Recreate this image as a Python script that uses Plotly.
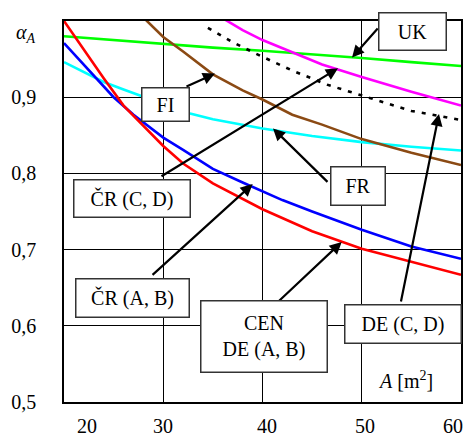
import plotly.graph_objects as go

# ---- data ----
green_x = [20, 25, 30, 35, 40, 45, 50, 55, 60]
green_y = [0.980, 0.975, 0.970, 0.965, 0.961, 0.9565, 0.9515, 0.946, 0.941]

red_x = [20, 22, 24, 26, 28, 30, 32, 35, 40, 45, 50, 55, 60]
red_y = [1.0, 0.962, 0.925, 0.889, 0.862, 0.836, 0.813, 0.787, 0.753, 0.724, 0.701, 0.684, 0.667]

blue_x = [20, 22, 24, 25, 27, 30, 32, 35, 38, 40, 42, 45, 50, 55, 60]
blue_y = [0.971, 0.943, 0.914, 0.900, 0.877, 0.847, 0.831, 0.806, 0.788, 0.776, 0.765, 0.750,
          0.726, 0.704, 0.688]

cyan_x = [20, 22, 24, 26, 28, 30, 32.7, 35, 40, 45, 50, 55, 60]
cyan_y = [0.946, 0.933, 0.920, 0.910, 0.901, 0.891, 0.8785, 0.871, 0.859, 0.849, 0.841, 0.835, 0.830]

brown_x = [28.2, 30, 32, 35, 38, 40, 43, 46, 50, 55, 60]
brown_y = [1.002, 0.979, 0.960, 0.930, 0.909, 0.897, 0.877, 0.864, 0.845, 0.827, 0.811]

magenta_x = [36.2, 38, 40, 43, 46, 50, 55, 60]
magenta_y = [1.002, 0.988, 0.975, 0.959, 0.943, 0.9265, 0.907, 0.889]

dotted_x = [34.5, 37, 40, 43, 46.5, 50, 55, 60]
dotted_y = [0.991, 0.972, 0.953, 0.935, 0.9165, 0.9025, 0.882, 0.870]

x_ticks = [20, 30, 40, 50, 60]
x_tick_text = ["20", "30", "40", "50", "60"]
y_ticks = [0.5, 0.6, 0.7, 0.8, 0.9]
y_tick_text = ["0,5", "0,6", "0,7", "0,8", "0,9"]

# label boxes: text, centre (x, y), box width, box height
box_text = ["FI", "ČR (C, D)", "ČR (A, B)", "CEN<br>DE (A, B)", "DE (C, D)", "FR", "UK"]
box_x = [30.20, 26.85, 26.90, 40.15, 54.16, 49.67, 55.11]
box_y = [0.890, 0.767, 0.636, 0.586, 0.602, 0.783, 0.986]
box_w = [49, 118, 115, 128, 118, 56, 69]
box_h = [35, 39, 40, 73, 40, 40, 39]

# arrows: tail (x, y) -> head (x, y)
arrow_tail_x = [32.19, 29.67, 28.77, 41.53, 53.92, 46.70, 51.74]
arrow_tail_y = [0.913, 0.795, 0.665, 0.631, 0.630, 0.787, 0.992]
arrow_head_x = [35.21, 47.61, 39.01, 47.98, 57.78, 41.06, 49.02]
arrow_head_y = [0.931, 0.938, 0.786, 0.710, 0.878, 0.859, 0.952]

FONT = "Liberation Serif, Times New Roman, serif"

fig = go.Figure()
series = [
    (green_x, green_y, "#00FF00", "solid", 2.6),
    (cyan_x, cyan_y, "#00FFFF", "solid", 2.6),
    (brown_x, brown_y, "#8B4A14", "solid", 2.6),
    (magenta_x, magenta_y, "#FF00FF", "solid", 2.6),
    (blue_x, blue_y, "#0000FF", "solid", 2.6),
    (red_x, red_y, "#FF0000", "solid", 2.6),
    (dotted_x, dotted_y, "#000000", "4px,7px", 2.6),
]
for xs, ys, col, dash, w in series:
    fig.add_trace(go.Scatter(x=xs, y=ys, mode="lines",
                             line=dict(color=col, width=w, dash=dash),
                             showlegend=False, hoverinfo="skip"))

annotations = []
# arrows
for tx, ty, hx, hy in zip(arrow_tail_x, arrow_tail_y, arrow_head_x, arrow_head_y):
    annotations.append(dict(x=hx, y=hy, ax=tx, ay=ty, xref="x", yref="y",
                            axref="x", ayref="y", text="", showarrow=True,
                            arrowhead=2, arrowsize=1.1, arrowwidth=2.2,
                            arrowcolor="black", standoff=0, startstandoff=0))
# boxes
for t, bx, by, bw, bh in zip(box_text, box_x, box_y, box_w, box_h):
    annotations.append(dict(x=bx, y=by, xref="x", yref="y", text=t,
                            showarrow=False, bgcolor="white",
                            bordercolor="#333333", borderwidth=1.5, borderpad=0,
                            width=bw - 3, height=bh - 3, align="center",
                            valign="middle",
                            font=dict(family=FONT, size=20, color="black")))
# x tick labels
x_shift = [23, 0, 4, 3, -8]
for v, t, s in zip(x_ticks, x_tick_text, x_shift):
    annotations.append(dict(x=v, y=0, xref="x", yref="paper", text=t,
                            showarrow=False, xanchor="center", yanchor="middle",
                            xshift=s, yshift=-24,
                            font=dict(family=FONT, size=20, color="black")))
# axis titles
annotations.append(dict(x=0, y=1, xref="paper", yref="paper",
                        text="<i>α<sub>A</sub></i>", showarrow=False,
                        xanchor="center", yanchor="middle", xshift=-38, yshift=-12,
                        font=dict(family=FONT, size=20, color="black")))
annotations.append(dict(x=0.86, y=0, xref="paper", yref="paper",
                        text="<i>A</i> [m<sup>2</sup>]", showarrow=False,
                        xanchor="center", yanchor="middle", yshift=22,
                        font=dict(family=FONT, size=20, color="black")))

fig.update_layout(
    width=463, height=434,
    margin=dict(l=64, r=2, t=21, b=32, autoexpand=False),
    paper_bgcolor="white", plot_bgcolor="white",
    font=dict(family=FONT, size=20, color="black"),
    annotations=annotations,
    xaxis=dict(range=[20, 60], tickvals=x_ticks, showticklabels=False,
               automargin=False,
               showgrid=True, gridcolor="black", gridwidth=1,
               showline=True, linecolor="black", linewidth=1.5, mirror=True,
               zeroline=False, ticks=""),
    yaxis=dict(range=[0.5, 1.0], tickvals=y_ticks, ticktext=y_tick_text,
               automargin=False,
               showgrid=True, gridcolor="black", gridwidth=1,
               showline=True, linecolor="black", linewidth=1.5, mirror=True,
               zeroline=False, ticks="", ticklabelstandoff=22,
               tickfont=dict(family=FONT, size=20, color="black")),
)

fig.write_html("out.html", config={"displayModeBar": False},
               post_script="document.body.style.margin='0';document.body.style.overflow='hidden';")
